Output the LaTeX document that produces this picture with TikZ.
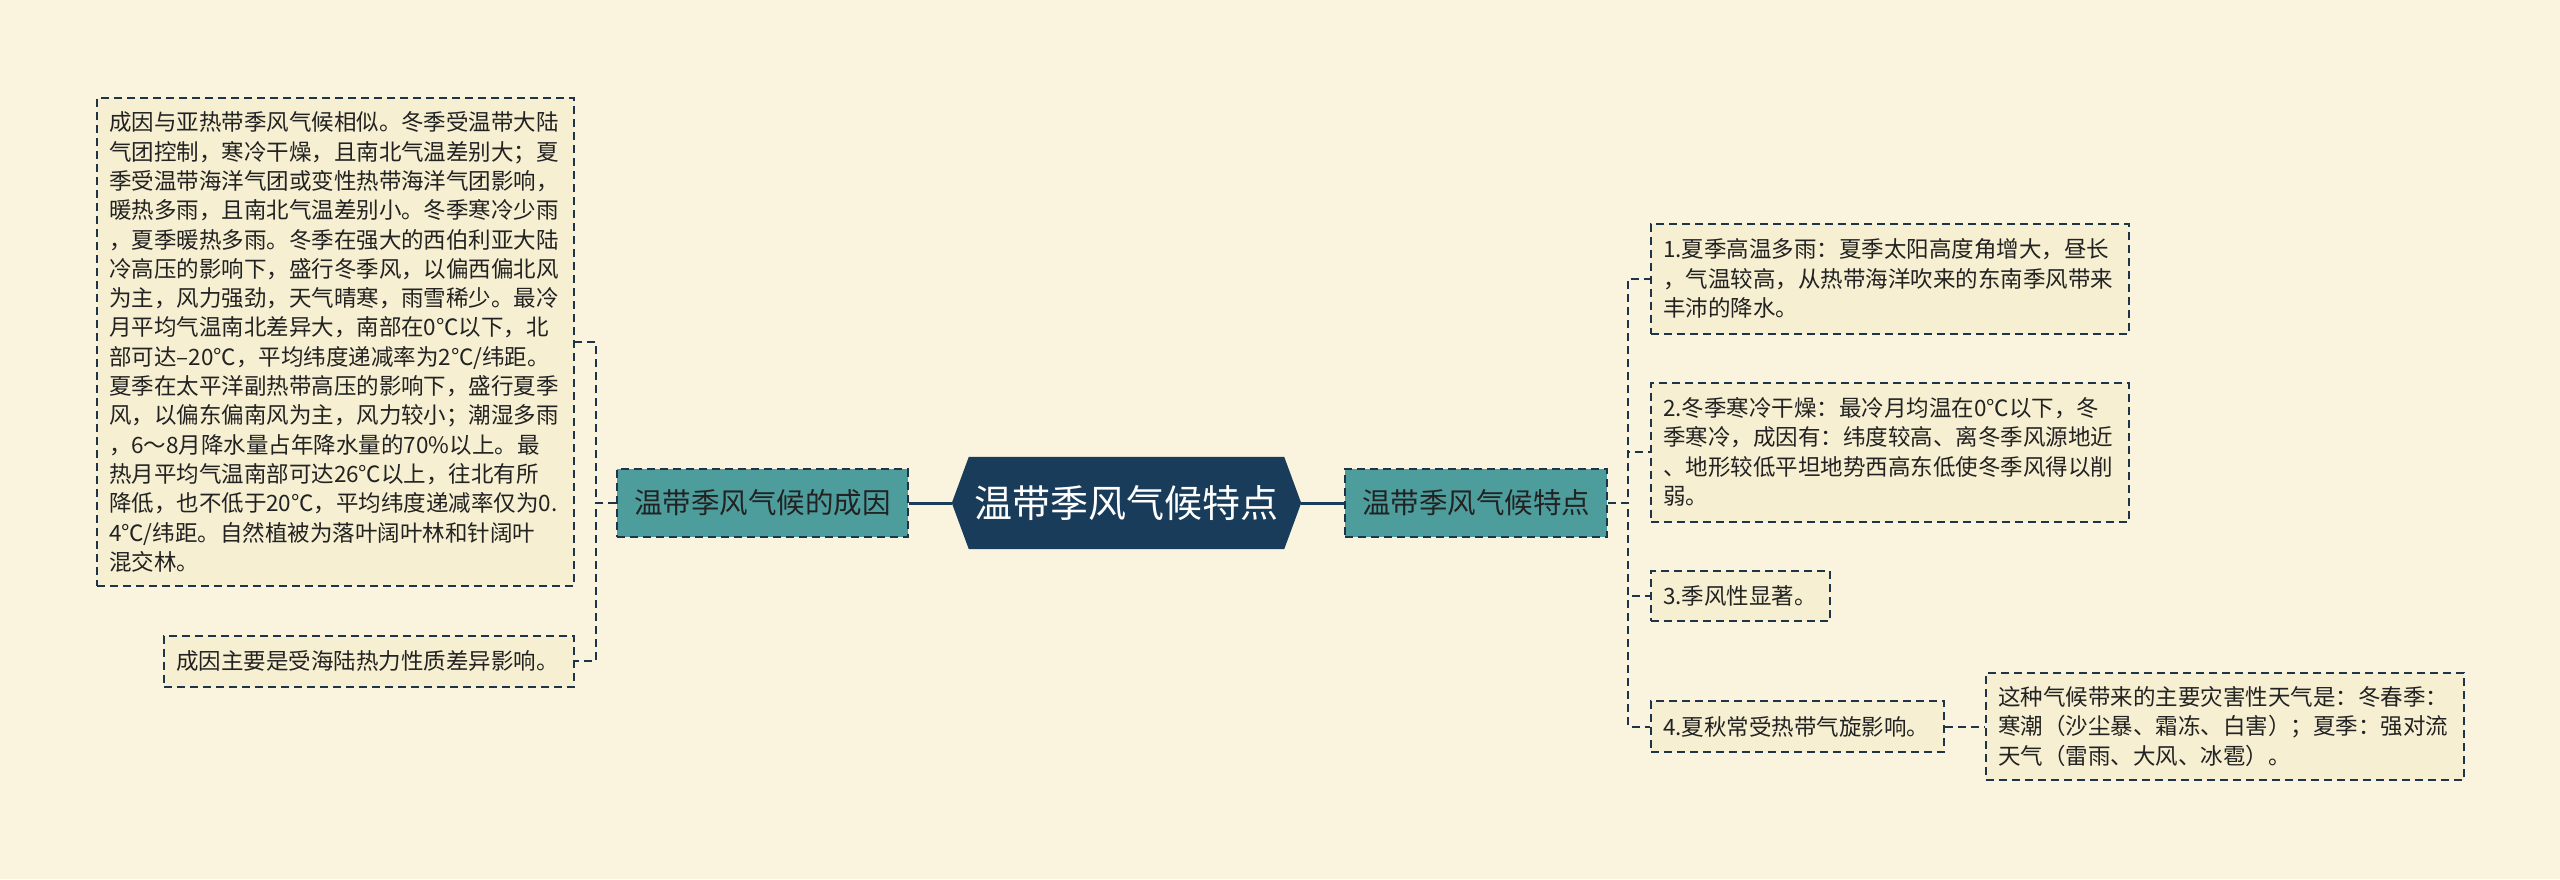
\documentclass[tikz,border=0pt]{standalone}
\usepackage{fontspec}
\newfontfamily\cjk{Noto Sans CJK SC}
\usetikzlibrary{positioning,backgrounds}
\definecolor{paper}{HTML}{FAF4DE}
\definecolor{leaffill}{HTML}{F6EFD2}
\definecolor{navy}{HTML}{183C5A}
\definecolor{branchteal}{HTML}{4E9D9D}
\definecolor{inkline}{HTML}{1E3448}
\definecolor{textdark}{HTML}{222222}

\begin{document}
\begin{tikzpicture}[x=1pt,y=-1pt,node distance=43pt,
                    link/.style={draw=inkline,line width=2pt,dash pattern=on 8pt off 5pt},
                    trunk/.style={draw=navy,line width=3pt}]
    \tikzset{root/.style={minimum width=349pt,minimum height=92pt,inner sep=0pt,
                          text=white,font=\cjk\fontsize{38pt}{44pt}\selectfont},
             branch/.style={link,fill=branchteal,minimum height=68pt,inner xsep=17pt,
                            text=textdark,font=\cjk\fontsize{28.5pt}{34pt}\selectfont},
             leaf/.style={link,fill=leaffill,text width=#1,align=left,
                          inner xsep=12pt,inner ysep=10pt,text=textdark,
                          font=\cjk\fontsize{22.5pt}{29.3pt}\selectfont}}
    \useasboundingbox (0,0) rectangle (2560,879);
    \node[root] (root) at (1126.5,503) {温带季风气候特点};
    \begin{scope}[on background layer]
        \fill[paper] (0,0) rectangle (2560,879);
        \fill[navy] (root.west) -- ([xshift=17pt]root.north west)
            -- ([xshift=-17pt]root.north east) -- (root.east)
            -- ([xshift=-17pt]root.south east) -- ([xshift=17pt]root.south west) -- cycle;
    \end{scope}
    \node[branch,left=of root] (cause) {温带季风气候的成因};
    \node[branch,right=of root] (feat) {温带季风气候特点};
    % left leaves
    \node[leaf=453pt,minimum height=488pt,anchor=east] (cbig) at (575,342)
        {成因与亚热带季风气候相似。冬季受温带大陆\\
         气团控制，寒冷干燥，且南北气温差别大；夏\\
         季受温带海洋气团或变性热带海洋气团影响，\\
         暖热多雨，且南北气温差别小。冬季寒冷少雨\\
         ，夏季暖热多雨。冬季在强大的西伯利亚大陆\\
         冷高压的影响下，盛行冬季风，以偏西偏北风\\
         为主，风力强劲，天气晴寒，雨雪稀少。最冷\\
         月平均气温南北差异大，南部在0℃以下，北\\
         部可达–20℃，平均纬度递减率为2℃/纬距。\\
         夏季在太平洋副热带高压的影响下，盛行夏季\\
         风，以偏东偏南风为主，风力较小；潮湿多雨\\
         ，6～8月降水量占年降水量的70\%以上。最\\
         热月平均气温南部可达26℃以上，往北有所\\
         降低，也不低于20℃，平均纬度递减率仅为0.\\
         4℃/纬距。自然植被为落叶阔叶林和针阔叶\\
         混交林。};
    \node[leaf=386pt,minimum height=51pt,anchor=east] (csmall) at (575,661)
        {成因主要是受海陆热力性质差异影响。};
    % right leaves
    \node[leaf=454pt,minimum height=110pt,anchor=west] (f1) at (1650,278.5)
        {1.夏季高温多雨：夏季太阳高度角增大，昼长\\
         ，气温较高，从热带海洋吹来的东南季风带来\\
         丰沛的降水。};
    \node[leaf=454pt,minimum height=139pt,anchor=west] (f2) at (1650,452)
        {2.冬季寒冷干燥：最冷月均温在0℃以下，冬\\
         季寒冷，成因有：纬度较高、离冬季风源地近\\
         、地形较低平坦地势西高东低使冬季风得以削\\
         弱。};
    \node[leaf=155pt,minimum height=50pt,anchor=west] (f3) at (1650,596)
        {3.季风性显著。};
    \node[leaf=269pt,minimum height=51pt,anchor=west] (f4) at (1650,726.5)
        {4.夏秋常受热带气旋影响。};
    \node[leaf=454pt,minimum height=107pt,anchor=west] (f5) at (1985,726.5)
        {这种气候带来的主要灾害性天气是：冬春季：\\
         寒潮（沙尘暴、霜冻、白害）；夏季：强对流\\
         天气（雷雨、大风、冰雹）。};
    \draw[trunk] (root.west) -- (cause.east);
    \draw[trunk] (root.east) -- (feat.west);
    \foreach \leaf in {cbig,csmall}
        \draw[link] (cause.west) -- ++(-20,0) |- (\leaf.east);
    \foreach \leaf in {f1,f2,f3,f4}
        \draw[link] (feat.east) -- ++(20,0) |- (\leaf.west);
    \draw[link] (f4.east) -- (f5.west);
\end{tikzpicture}
\end{document}
